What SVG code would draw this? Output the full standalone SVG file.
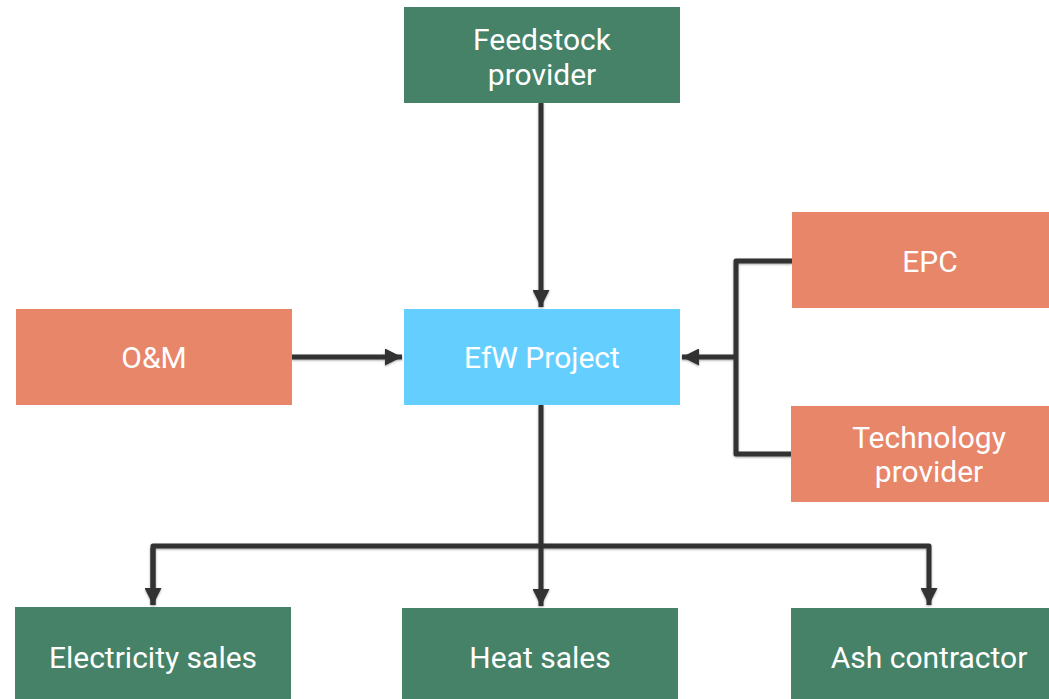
<svg xmlns="http://www.w3.org/2000/svg" width="1049" height="699" viewBox="0 0 1049 699">
<style>
.g{fill:#468268}.o{fill:#E8866A}.b{fill:#64CFFF}
text{font-family:Roboto,"Liberation Sans",sans-serif;font-size:30px;fill:#fff;text-anchor:middle;dominant-baseline:central}
.c{fill:none;stroke:#333;stroke-width:5;stroke-linejoin:round}
</style>
<defs>
<marker id="ah" viewBox="0 0 10 10" refX="10" refY="5" markerWidth="3.4" markerHeight="3.4" orient="auto" markerUnits="strokeWidth">
<path d="M0,0L10,5L0,10z" fill="#333"/>
</marker>
<filter id="sh" x="-10%" y="-10%" width="120%" height="120%"><feDropShadow dx="0" dy="1" stdDeviation="1.2" flood-opacity="0.35"/></filter>
</defs>
<g id="connectors" filter="url(#sh)">
<path class="c" d="M541,103V307" marker-end="url(#ah)"/>
<path class="c" d="M292,357H402" marker-end="url(#ah)"/>
<path class="c" d="M792,261H736V454H792"/>
<path class="c" d="M736,357H682" marker-end="url(#ah)"/>
<path class="c" d="M541,405V606" marker-end="url(#ah)"/>
<path class="c" d="M153,605V546H929V605" marker-end="url(#ah)"/>
<path class="c" d="M153,548V605" marker-end="url(#ah)"/>
</g>
<g id="feedstock"><rect class="g" x="404" y="7" width="276" height="96"/><text x="542" y="39">Feedstock</text><text x="542" y="74">provider</text></g>
<g id="efw"><rect class="b" x="404" y="309" width="276" height="96"/><text x="542" y="357">EfW Project</text></g>
<g id="om"><rect class="o" x="16" y="309" width="276" height="96"/><text x="154" y="357">O&amp;M</text></g>
<g id="epc"><rect class="o" x="792" y="212" width="257" height="96"/><text x="930" y="261">EPC</text></g>
<g id="tech"><rect class="o" x="791" y="406" width="258" height="96"/><text x="929" y="437">Technology</text><text x="929" y="471">provider</text></g>
<g id="elec"><rect class="g" x="15" y="607" width="276" height="92"/><text x="153" y="657">Electricity sales</text></g>
<g id="heat"><rect class="g" x="402" y="608" width="276" height="91"/><text x="540" y="657">Heat sales</text></g>
<g id="ash"><rect class="g" x="791" y="608" width="258" height="91"/><text x="929" y="657">Ash contractor</text></g>
</svg>
